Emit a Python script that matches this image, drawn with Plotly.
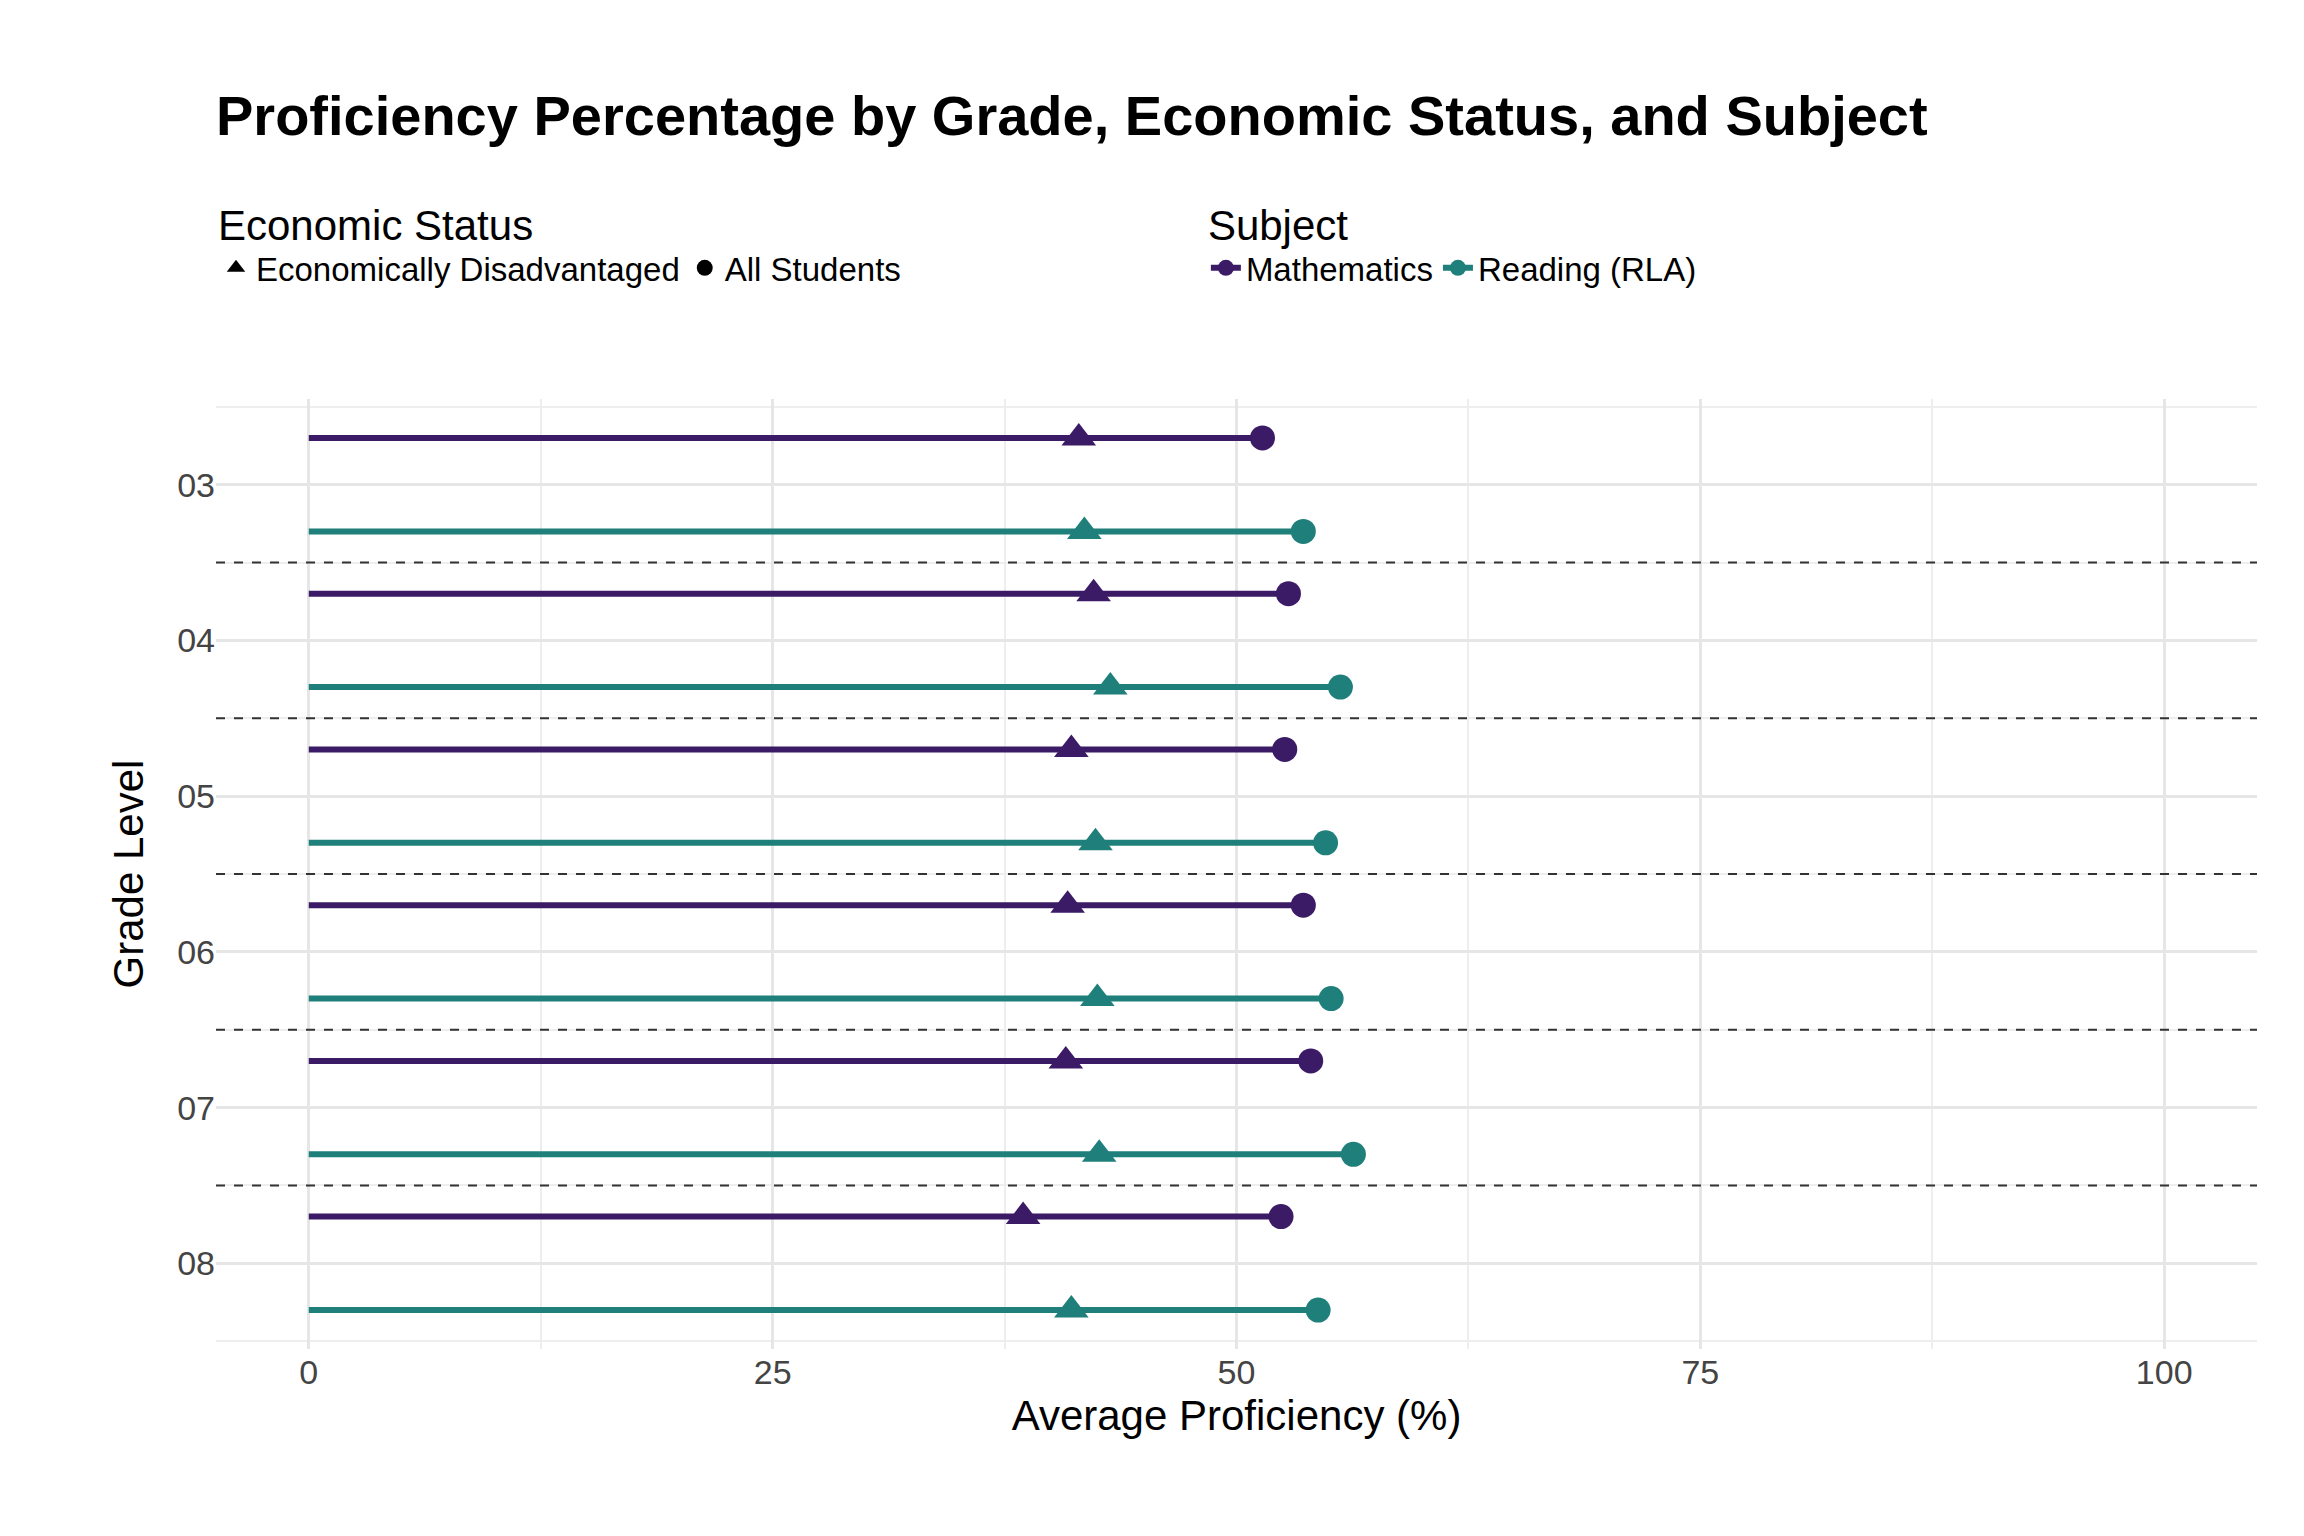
import plotly.graph_objects as go

grades = ["03", "04", "05", "06", "07", "08"]
math_all = [51.4, 52.8, 52.6, 53.6, 54.0, 52.4]
math_dis = [41.5, 42.3, 41.1, 40.9, 40.8, 38.5]
rla_all = [53.6, 55.6, 54.8, 55.1, 56.3, 54.4]
rla_dis = [41.8, 43.2, 42.4, 42.5, 42.6, 41.1]

PURPLE = "#3b1a66"
TEAL = "#1f7f7a"

fig = go.Figure()

def add_subject(all_vals, dis_vals, offset, color, name):
    ys = [i + offset for i in range(len(grades))]
    xs, yl = [], []
    for y, v in zip(ys, all_vals):
        xs += [0, v, None]
        yl += [y, y, None]
    fig.add_trace(go.Scatter(x=xs, y=yl, mode="lines", line=dict(color=color, width=6),
                             showlegend=False, hoverinfo="skip"))
    fig.add_trace(go.Scatter(x=all_vals, y=ys, mode="markers",
                             marker=dict(symbol="circle", size=25, color=color), showlegend=False))
    fig.add_trace(go.Scatter(x=dis_vals, y=ys, mode="markers",
                             marker=dict(symbol="triangle-up", size=30, color=color), showlegend=False))
    fig.add_trace(go.Scatter(x=[None], y=[None], mode="lines+markers", name=name,
                             line=dict(color=color, width=6),
                             marker=dict(symbol="circle", size=22, color=color), legend="legend2"))

add_subject(math_all, math_dis, -0.3, PURPLE, "Mathematics")
add_subject(rla_all, rla_dis, 0.3, TEAL, "Reading (RLA)")

fig.add_trace(go.Scatter(x=[None], y=[None], mode="markers", name="Economically Disadvantaged",
                         marker=dict(symbol="triangle-up", size=26, color="black")))
fig.add_trace(go.Scatter(x=[None], y=[None], mode="markers", name="All Students",
                         marker=dict(symbol="circle", size=22, color="black")))

for i in range(len(grades) - 1):
    fig.add_shape(type="line", xref="paper", x0=0, x1=1, y0=i + 0.5, y1=i + 0.5,
                  line=dict(color="#333333", width=2, dash="dash"))

font = "Liberation Sans, Arial, sans-serif"
fig.update_layout(
    width=2304, height=1536,
    plot_bgcolor="white", paper_bgcolor="white",
    font=dict(family=font, size=34, color="black"),
    margin=dict(l=208, r=55, t=391, b=195),
    title=dict(text="<b>Proficiency Percentage by Grade, Economic Status, and Subject</b>",
               x=208 / 2304, xanchor="left", y=1 - 107 / 1536, yanchor="middle",
               font=dict(size=56, color="black")),
    legend=dict(orientation="h", x=0, xref="paper", y=1.225, yanchor="top",
                title=dict(text="Economic Status", side="top", font=dict(size=42)),
                font=dict(size=33), itemsizing="trace", bgcolor="rgba(0,0,0,0)"),
    legend2=dict(orientation="h", x=0.485, xref="paper", y=1.225, yanchor="top",
                 title=dict(text="Subject", side="top", font=dict(size=42)),
                 font=dict(size=33), itemsizing="trace", bgcolor="rgba(0,0,0,0)"),
    showlegend=True,
)
fig.update_xaxes(range=[-5, 105], tickvals=[0, 25, 50, 75, 100], showgrid=True,
                 gridcolor="#e6e6e6", gridwidth=3, zeroline=False,
                 minor=dict(tickvals=[12.5, 37.5, 62.5, 87.5], showgrid=True,
                            gridcolor="#eeeeee", gridwidth=1.5),
                 tickfont=dict(size=34, color="#444444"),
                 title=dict(text="Average Proficiency (%)", font=dict(size=42), standoff=10))
fig.update_yaxes(range=[5.55, -0.55], tickvals=list(range(len(grades))), ticktext=grades,
                 showgrid=True, gridcolor="#e6e6e6", gridwidth=3, zeroline=False,
                 minor=dict(tickvals=[-0.5 + i for i in range(7)], showgrid=True,
                            gridcolor="#eeeeee", gridwidth=1.5),
                 tickfont=dict(size=34, color="#444444"),
                 title=dict(text="Grade Level", font=dict(size=42), standoff=20))

fig.write_html("out.html")
